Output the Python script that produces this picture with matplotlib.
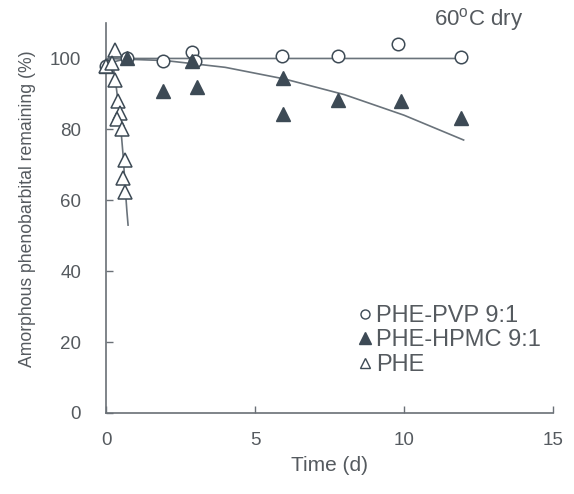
import matplotlib
matplotlib.use("Agg")
import matplotlib.pyplot as plt
from matplotlib.lines import Line2D

plt.rcParams["font.family"] = ["Liberation Sans", "DejaVu Sans"]

# PHE-PVP 9:1 (open circles)
pvp_t = [0.0, 0.7, 1.9, 2.9, 3.0, 5.9, 7.8, 9.8, 11.9]
pvp_y = [98.0, 100.0, 99.2, 101.7, 99.2, 100.6, 100.6, 104.0, 100.3]
pvp_fit_t = [0.0, 0.7, 12.0]
pvp_fit_y = [98.5, 100.0, 100.0]

# PHE-HPMC 9:1 (filled triangles)
hpmc_t = [0.0, 0.7, 1.9, 2.9, 3.05, 5.95, 5.95, 7.8, 9.9, 11.9]
hpmc_y = [98.0, 100.0, 90.7, 99.4, 92.0, 94.6, 84.2, 88.4, 87.9, 83.3]
hpmc_fit_t = [0.0, 2.0, 4.0, 6.0, 8.0, 10.0, 12.0]
hpmc_fit_y = [100.0, 99.4, 97.5, 94.2, 89.8, 84.0, 77.0]

# PHE (open triangles)
phe_t = [0.0, 0.3, 0.19, 0.3, 0.4, 0.47, 0.36, 0.53, 0.64, 0.58, 0.64]
phe_y = [98.0, 102.5, 98.8, 94.0, 88.0, 84.7, 82.8, 80.0, 71.5, 66.4, 62.4]
phe_fit_t = [0.0, 0.2, 0.3, 0.4, 0.5, 0.58, 0.64, 0.7, 0.74]
phe_fit_y = [100.0, 99.0, 95.0, 88.0, 80.0, 72.0, 64.0, 57.0, 53.0]

ink = "#3d4a55"
txt = "#555a5f"
line_c = "#6a737b"

fig = plt.figure(figsize=(5.74, 4.94), dpi=100)
ax = fig.add_axes([0.1847, 0.164, 0.7787, 0.7894])

ax.plot(pvp_fit_t, pvp_fit_y, color=line_c, lw=1.2, zorder=2)
ax.plot(hpmc_fit_t, hpmc_fit_y, color=line_c, lw=1.2, zorder=2)
ax.plot(phe_fit_t, phe_fit_y, color=line_c, lw=1.2, zorder=2)

ax.plot(pvp_t, pvp_y, "o", ms=9, mfc="white", mec=ink, mew=1.1, ls="none", clip_on=False, zorder=3)
ax.plot(hpmc_t, hpmc_y, "^", ms=10, mfc=ink, mec=ink, mew=1.0, ls="none", clip_on=False, zorder=4)
ax.plot(phe_t, phe_y, "^", ms=10, mfc="white", mec=ink, mew=1.1, ls="none", clip_on=False, zorder=5)

ax.set_xlim(0, 15)
ax.set_ylim(0, 110)
ax.set_xticks([0, 5, 10, 15])
ax.set_yticks([0, 20, 40, 60, 80, 100])

for s in ["top", "right"]:
    ax.spines[s].set_visible(False)
for s in ["left", "bottom"]:
    ax.spines[s].set_color("#6a7076")
    ax.spines[s].set_linewidth(1.2)

ax.tick_params(axis="both", direction="in", length=5, width=1.0, color="#6a7076",
               labelsize=13.5, labelcolor=txt)
ax.tick_params(axis="x", pad=14)
ax.tick_params(axis="y", pad=18)

ax.set_xlabel("Time (d)", fontsize=15, color=txt, labelpad=5)
ax.set_ylabel("Amorphous phenobarbital remaining (%)", fontsize=12.7, color=txt)
ax.yaxis.set_label_coords(-0.157, 0.523)

ax.text(11.0, 111, "60$^{\\mathregular{o}}$C dry", fontsize=16, color=txt, ha="left", va="center")

handles = [
    Line2D([], [], marker="o", ms=6.5, mfc="white", mec=ink, mew=1.0, ls="none"),
    Line2D([], [], marker="^", ms=9, mfc=ink, mec=ink, ls="none"),
    Line2D([], [], marker="^", ms=7.5, mfc="white", mec=ink, mew=1.0, ls="none"),
]
labels = ["PHE-PVP 9:1", "PHE-HPMC 9:1", "PHE"]
leg = ax.legend(handles, labels, loc="lower right", bbox_to_anchor=(1.0, 0.065), frameon=False,
                fontsize=17, handlelength=0.5, handletextpad=0.25, labelspacing=0.1, borderpad=0)
for t in leg.get_texts():
    t.set_color(txt)

fig.savefig("out.png", dpi=100)
